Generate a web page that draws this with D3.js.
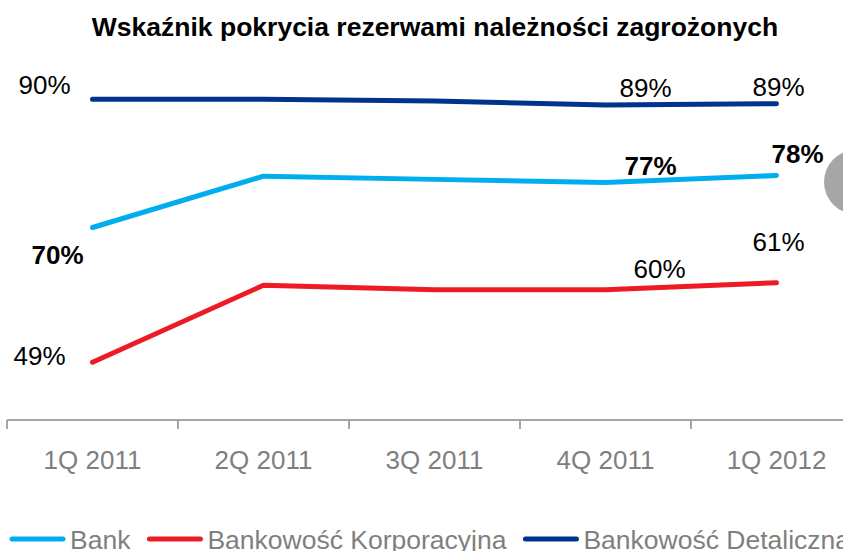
<!DOCTYPE html>
<html><head><meta charset="utf-8">
<script src="https://cdn.jsdelivr.net/npm/d3@7"></script>
<style>body{margin:0;background:#fff}svg{display:block}</style>
</head><body>
<script>
const categories = ["1Q 2011","2Q 2011","3Q 2011","4Q 2011","1Q 2012"];
const bank = [70, 78, 77.5, 77, 78.1];
const korporacyjna = [49, 61, 60.3, 60.3, 61.4];
const detaliczna = [90, 90, 89.7, 89.1, 89.3];
const seriesNames = ["Bank","Bankowość Korporacyjna","Bankowość Detaliczna"];
const colors = ["#00AEEF","#ED1C24","#00338D"];
// labels: [series index, category index, text, bold]
const labels = [
  [2,0,"90%",false],[2,3,"89%",false],[2,4,"89%",false],
  [0,0,"70%",true],[0,3,"77%",true],[0,4,"78%",true],
  [1,0,"49%",false],[1,3,"60%",false],[1,4,"61%",false]
];

const W=843,H=551;
const svg=d3.select("body").append("svg").attr("width",W).attr("height",H);
const font="Liberation Sans, Arial, sans-serif";

// decorative gray circle
svg.append("circle").attr("cx",856).attr("cy",182).attr("r",32).attr("fill","#a6a6a6");

svg.append("text").attr("x",435).attr("y",36).attr("text-anchor","middle")
  .attr("font-family",font).attr("font-weight","bold").attr("font-size",26.5).attr("fill","#000")
  .text("Wskaźnik pokrycia rezerwami należności zagrożonych");

const x=d3.scaleBand().domain(categories).range([7,862]).padding(0);
const y=d3.scaleLinear().domain([40,100]).range([420,35]);

const ax=svg.append("g").attr("transform","translate(0,420)")
  .call(d3.axisBottom(x).tickSize(0).tickSizeOuter(0));
ax.select(".domain").remove();
ax.append("line").attr("x1",7).attr("x2",W).attr("y1",0).attr("y2",0).attr("stroke","#a6a6a6").attr("stroke-width",2);
categories.forEach((c,i)=>{
  const t=x(c);
  ax.append("line").attr("x1",t).attr("x2",t).attr("y1",0).attr("y2",9).attr("stroke","#a6a6a6").attr("stroke-width",2);
});
ax.selectAll(".tick text").attr("font-family",font).attr("font-size",26).attr("fill","#7f7f7f").attr("dy",0).attr("y",49);

const data=[bank,korporacyjna,detaliczna];
const line=d3.line().x((d,i)=>x(categories[i])+x.bandwidth()/2).y(d=>y(d));
data.forEach((s,k)=>{
  svg.append("path").datum(s).attr("d",line).attr("fill","none")
    .attr("stroke",colors[k]).attr("stroke-width",5).attr("stroke-linecap","round").attr("stroke-linejoin","round");
});

// label offsets (dx, dy relative to point)
const offs={"2-0":[-48,-5],"2-3":[40,-8],"2-4":[2,-8],"0-0":[-35,36],"0-3":[45,-8],"0-4":[21,-13],"1-0":[-53,3],"1-3":[54,-12],"1-4":[2,-32]};
labels.forEach(([s,c,t,b])=>{
  const px=x(categories[c])+x.bandwidth()/2, py=y(data[s][c]);
  const o=offs[s+"-"+c];
  svg.append("text").attr("x",px+o[0]).attr("y",py+o[1]).attr("text-anchor","middle")
    .attr("font-family",font).attr("font-size",26).attr("font-weight",b?"bold":"normal").attr("fill","#000").text(t);
});

// legend
let lx=10;
const lg=svg.append("g");
seriesNames.forEach((n,k)=>{
  lg.append("line").attr("x1",lx+2).attr("x2",lx+53).attr("y1",539).attr("y2",539)
    .attr("stroke",colors[k]).attr("stroke-width",5).attr("stroke-linecap","round");
  const tx=lg.append("text").attr("x",lx+60).attr("y",549).attr("font-family",font).attr("font-size",26.5).attr("fill","#7f7f7f").text(n);
  lx+=60+tx.node().getComputedTextLength()+17;
});
</script>
</body></html>
